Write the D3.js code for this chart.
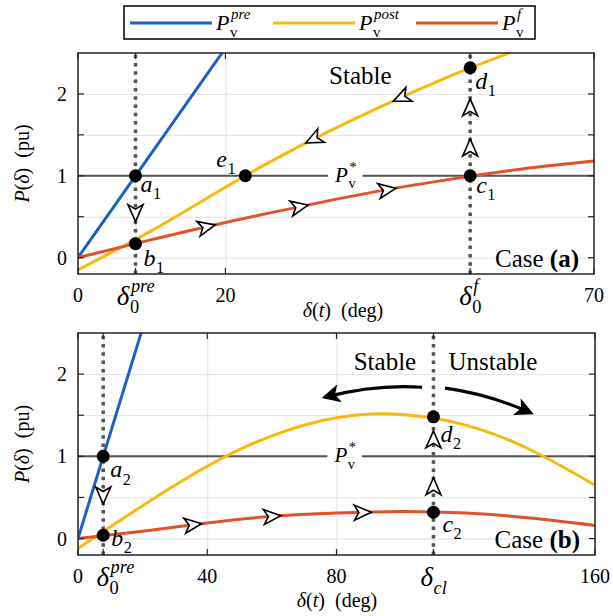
<!DOCTYPE html>
<html>
<head>
<meta charset="utf-8">
<script src="https://cdn.jsdelivr.net/npm/d3@7"></script>
<style>
  body { margin: 0; background: #fff; }
  text { font-family: 'Liberation Serif', 'Times New Roman', serif; }
</style>
</head>
<body>
<div id="chart"></div>
<script>
// ---- data ----
const legendSup = ['pre', 'post', 'f'];

const preDeg = [0, 7.8, 20];
const prePower = [0, 1, 2.56];

const degA = [0, 10, 20, 30, 40, 50, 60, 70];
const postA = [-0.15, 0.33, 0.86, 1.36, 1.80, 2.20, 2.55, 2.88];
const faultA = [0, 0.22, 0.43, 0.62, 0.80, 0.95, 1.08, 1.18];

const degB = [0, 20, 40, 60, 80, 100, 120, 140, 160];
const postB = [-0.12, 0.40, 0.88, 1.25, 1.47, 1.51, 1.38, 1.08, 0.65];
const faultB = [0, 0.09, 0.19, 0.27, 0.31, 0.33, 0.31, 0.25, 0.16];

const pStar = 1;
const deltaPre = 7.8, deltaF = 53.2, deltaCl = 110;

const ticksA = [0, deltaPre, 20, deltaF, 70];
const tickTextA = ['0', 'δ_0^pre', '20', 'δ_0^f', '70'];
const ticksB = [0, deltaPre, 40, 80, deltaCl, 160];
const tickTextB = ['0', 'δ_0^pre', '40', '80', 'δ_cl', '160'];
const yTicks = [0, 0.5, 1, 1.5, 2];
const yTickText = ['0', '', '1', '', '2'];

const pointNamesA = ['a_1', 'b_1', 'e_1', 'c_1', 'd_1'];
const pointDegA = [deltaPre, deltaPre, 22.7, deltaF, deltaF];
const pointPA = [1, 0.17, 1, 1, 2.32];
const pointNamesB = ['a_2', 'b_2', 'c_2', 'd_2'];
const pointDegB = [deltaPre, deltaPre, deltaCl, deltaCl];
const pointPB = [1, 0.04, 0.32, 1.48];

// direction arrows: along curves (deg) and on the dotted lines (P)
const faultArrowsA = [17.4, 30, 41.9];
const postArrowsA = [32, 43.9];
const preDownA = [0.55];
const vertUpA = [1.34, 1.83];
const faultArrowsB = [35.5, 60, 88];
const preDownB = [0.53];
const vertUpB = [0.63, 1.2];

const colors = { pre: '#1c62c4', post: '#f8b90c', f: '#e2522a' };

const svg = d3.select('#chart').append('svg')
  .attr('width', 613).attr('height', 616);

// italic base with optional sub/superscript
function mathText(g, x, y, base, sub, sup, size, anchor, subItalic, supItalic) {
  const t = g.append('g');
  const b = t.append('text').attr('font-size', size).attr('font-style', 'italic').text(base);
  const w = b.node().getComputedTextLength();
  let ws = 0, wp = 0;
  if (sub) {
    const s = t.append('text').attr('x', w + 0.5).attr('y', size * 0.3)
      .attr('font-size', size * 0.68).attr('font-style', subItalic ? 'italic' : 'normal').text(sub);
    ws = s.node().getComputedTextLength();
  }
  if (sup) {
    const s = t.append('text').attr('x', w + 1.5).attr('y', -size * 0.48)
      .attr('font-size', size * 0.68).attr('font-style', supItalic === false ? 'normal' : 'italic').text(sup);
    wp = s.node().getComputedTextLength() + 1;
  }
  const total = w + Math.max(ws, wp);
  const dx = anchor === 'middle' ? -total / 2 : (anchor === 'end' ? -total : 0);
  t.attr('transform', `translate(${x + dx},${y})`);
  return t;
}

function chevron(g, x, y, angle) {
  g.append('path')
    .attr('d', 'M9,0 L-8,-7.5 L-3.5,0 L-8,7.5 Z')
    .attr('transform', `translate(${x},${y}) rotate(${angle})`)
    .attr('fill', '#fff').attr('stroke', '#000').attr('stroke-width', 1.6)
    .attr('stroke-linejoin', 'miter');
}

svg.append('defs').append('marker')
  .attr('id', 'bigHead').attr('viewBox', '0 0 10 10')
  .attr('refX', 8).attr('refY', 5)
  .attr('markerWidth', 5.8).attr('markerHeight', 5.8)
  .attr('markerUnits', 'strokeWidth').attr('orient', 'auto')
  .append('path').attr('d', 'M0,0 L10,5 L0,10 L2.5,5 Z').attr('fill', '#000');

function drawPanel(cfg) {
  const x = d3.scaleLinear().domain(cfg.xDomain).range(cfg.xRange);
  const y = d3.scaleLinear().domain([-0.2, 2.5]).range(cfg.yRange);
  const [x0, x1] = cfg.xRange, [y0, y1] = cfg.yRange;
  const g = svg.append('g');
  const clipId = 'clip' + cfg.id;
  g.append('clipPath').attr('id', clipId).append('rect')
    .attr('x', x0).attr('y', y1).attr('width', x1 - x0).attr('height', y0 - y1);

  // grid
  g.append('g').attr('transform', `translate(0,${y0})`)
    .call(d3.axisBottom(x).tickValues(cfg.ticks).tickSize(-(y0 - y1)).tickFormat(''))
    .call(a => a.select('.domain').remove())
    .selectAll('line').attr('stroke', '#e2e2e2');
  g.append('g').attr('transform', `translate(${x0},0)`)
    .call(d3.axisLeft(y).tickValues(yTicks).tickSize(-(x1 - x0)).tickFormat(''))
    .call(a => a.select('.domain').remove())
    .selectAll('line').attr('stroke', '#e2e2e2');

  const plot = g.append('g').attr('clip-path', `url(#${clipId})`);

  // P* line
  plot.append('line').attr('x1', x0).attr('x2', x1)
    .attr('y1', y(pStar)).attr('y2', y(pStar))
    .attr('stroke', '#555').attr('stroke-width', 2);

  // dotted verticals
  cfg.verticals.forEach(v => {
    plot.append('line').attr('x1', x(v)).attr('x2', x(v)).attr('y1', y0).attr('y2', y1)
      .attr('stroke', '#555').attr('stroke-width', 3.5).attr('stroke-dasharray', '3.5,4.8');
  });

  const line = d3.line().x(d => x(d[0])).y(d => y(d[1])).curve(d3.curveNatural);
  plot.append('path').datum(d3.zip(preDeg, prePower)).attr('d', d3.line().x(d => x(d[0])).y(d => y(d[1])))
    .attr('fill', 'none').attr('stroke', colors.pre).attr('stroke-width', 3);
  plot.append('path').datum(d3.zip(cfg.deg, cfg.post)).attr('d', line)
    .attr('fill', 'none').attr('stroke', colors.post).attr('stroke-width', 3);
  plot.append('path').datum(d3.zip(cfg.deg, cfg.fault)).attr('d', line)
    .attr('fill', 'none').attr('stroke', colors.f).attr('stroke-width', 3);

  // P* label with white knock-out
  const pl = mathText(g, x(cfg.starDeg), y(pStar) + 6, 'P', 'v', '*', 21, 'middle', false, false);
  const bb = pl.node().getBBox();
  pl.insert('rect', ':first-child').attr('x', bb.x - 6).attr('y', -9).attr('width', bb.width + 12).attr('height', 6)
    .attr('fill', '#fff');

  // direction arrows
  const fS = d3.scaleLinear().domain(cfg.deg).range(cfg.fault);
  const pS = d3.scaleLinear().domain(cfg.deg).range(cfg.post);
  const along = (s, d, dir) => {
    const ang = Math.atan2(y(s(d + 0.5)) - y(s(d - 0.5)), x(d + 0.5) - x(d - 0.5)) * 180 / Math.PI;
    chevron(g, x(d), y(s(d)), dir > 0 ? ang : ang + 180);
  };
  cfg.faultArrows.forEach(d => along(fS, d, 1));
  (cfg.postArrows || []).forEach(d => along(pS, d, -1));
  cfg.preDown.forEach(p => chevron(g, x(deltaPre), y(p), 90));
  cfg.vertUp.forEach(p => chevron(g, x(cfg.verticals[1]), y(p), -90));

  // points
  cfg.names.forEach((n, i) => {
    g.append('circle').attr('cx', x(cfg.pDeg[i])).attr('cy', y(cfg.pP[i])).attr('r', 6.5).attr('fill', '#000');
    const off = cfg.labelOffsets[n];
    const [base, sub] = n.split('_');
    mathText(g, x(cfg.pDeg[i]) + off[0], y(cfg.pP[i]) + off[1], base, sub, null, 24, 'start', false);
  });

  // frame + inward ticks
  g.append('rect').attr('x', x0).attr('y', y1).attr('width', x1 - x0).attr('height', y0 - y1)
    .attr('fill', 'none').attr('stroke', '#262626').attr('stroke-width', 1.5);
  const tk = g.append('g').attr('stroke', '#262626').attr('stroke-width', 1.2);
  cfg.ticks.forEach(v => {
    tk.append('line').attr('x1', x(v)).attr('x2', x(v)).attr('y1', y0).attr('y2', y0 - 6);
    tk.append('line').attr('x1', x(v)).attr('x2', x(v)).attr('y1', y1).attr('y2', y1 + 6);
  });
  yTicks.forEach(v => {
    tk.append('line').attr('x1', x0).attr('x2', x0 + 6).attr('y1', y(v)).attr('y2', y(v));
    tk.append('line').attr('x1', x1).attr('x2', x1 - 6).attr('y1', y(v)).attr('y2', y(v));
  });

  // tick labels
  cfg.ticks.forEach((v, i) => {
    const txt = cfg.tickText[i];
    if (txt.startsWith('δ')) {
      const m = txt.match(/^(.)_(\w+)(?:\^(\w+))?$/);
      const shift = (cfg.labelShift && cfg.labelShift[i]) || 0;
      mathText(g, x(v) + shift, y0 + 31, m[1], m[2], m[3], 27, 'middle', m[2] === 'cl', true);
    } else {
      g.append('text').attr('x', x(v)).attr('y', y0 + 28).attr('text-anchor', 'middle')
        .attr('font-size', 20).text(txt);
    }
  });
  yTicks.forEach((v, i) => {
    g.append('text').attr('x', x0 - 11).attr('y', y(v) + 7).attr('text-anchor', 'end')
      .attr('font-size', 20).text(yTickText[i]);
  });

  // axis titles
  const xt = g.append('text').attr('x', cfg.xTitleX).attr('y', y0 + cfg.xTitleDy).attr('text-anchor', 'middle').attr('font-size', 20);
  xt.append('tspan').attr('font-style', 'italic').text('δ');
  xt.append('tspan').text('(');
  xt.append('tspan').attr('font-style', 'italic').text('t');
  xt.append('tspan').text(')\u2002(deg)');
  const yt = g.append('text').attr('transform', `translate(29,${(y0 + y1) / 2}) rotate(-90)`)
    .attr('text-anchor', 'middle').attr('font-size', 20);
  yt.append('tspan').attr('font-style', 'italic').text('P');
  yt.append('tspan').text('(');
  yt.append('tspan').attr('font-style', 'italic').text('δ');
  yt.append('tspan').text(')\u2002(pu)');

  // annotations
  cfg.notes.forEach(n => {
    g.append('text').attr('x', x(n[1])).attr('y', y(n[2])).attr('text-anchor', 'middle')
      .attr('font-size', 25).text(n[0]);
  });
  const ct = g.append('text').attr('x', x1 - 15).attr('y', y0 - 7).attr('text-anchor', 'end').attr('font-size', 25);
  ct.append('tspan').text('Case ');
  ct.append('tspan').attr('font-weight', 'bold').text(`(${cfg.id})`);

  (cfg.swing || []).forEach(c => {
    const p = c.map(d => [x(d[0]), y(d[1])]);
    g.append('path').attr('d', `M${p[0]} Q${p[1]} ${p[2]}`)
      .attr('fill', 'none').attr('stroke', '#000').attr('stroke-width', 3.2)
      .attr('marker-end', 'url(#bigHead)');
  });
}

drawPanel({
  id: 'a', xDomain: [0, 70], xRange: [78, 594], yRange: [274, 53],
  ticks: ticksA, tickText: tickTextA, deg: degA, post: postA, fault: faultA,
  verticals: [deltaPre, deltaF], starDeg: 36.3,
  faultArrows: faultArrowsA, postArrows: postArrowsA, preDown: preDownA, vertUp: vertUpA,
  names: pointNamesA, pDeg: pointDegA, pP: pointPA,
  labelOffsets: { a_1: [5, 16], b_1: [8, 22], e_1: [-29, -9], c_1: [6, 17], d_1: [5, 21] },
  xTitleX: 343, xTitleDy: 43,
  notes: [['Stable', 38.3, 2.12]]
});

drawPanel({
  id: 'b', xDomain: [0, 160], xRange: [78, 595], yRange: [555, 333],
  ticks: ticksB, tickText: tickTextB, deg: degB, post: postB, fault: faultB,
  verticals: [deltaPre, deltaCl], starDeg: 82.6, labelShift: [0, 12],
  faultArrows: faultArrowsB, preDown: preDownB, vertUp: vertUpB,
  names: pointNamesB, pDeg: pointDegB, pP: pointPB,
  labelOffsets: { a_2: [7, 21], b_2: [8, 11], c_2: [9, 20], d_2: [7, 25] },
  xTitleX: 337, xTitleDy: 52,
  notes: [['Stable', 95, 2.05], ['Unstable', 128.4, 2.05]],
  swing: [
    [[106.5, 1.84], [92, 1.88], [76.5, 1.72]],
    [[113.6, 1.83], [127, 1.76], [140, 1.53]]
  ]
});

// legend
const lg = svg.append('g');
lg.append('rect').attr('x', 124).attr('y', 6).attr('width', 411).attr('height', 33)
  .attr('fill', '#fff').attr('stroke', '#000').attr('stroke-width', 1.5);
const legX = d3.scalePoint().domain(legendSup).range([130, 416]);
legendSup.forEach(k => {
  const lx = legX(k);
  lg.append('line').attr('x1', lx).attr('x2', lx + 82).attr('y1', 23).attr('y2', 23)
    .attr('stroke', colors[k]).attr('stroke-width', 3);
  mathText(lg, lx + 86, 30, 'P', 'v', k, 22, 'start', false, true);
});
</script>
</body>
</html>
